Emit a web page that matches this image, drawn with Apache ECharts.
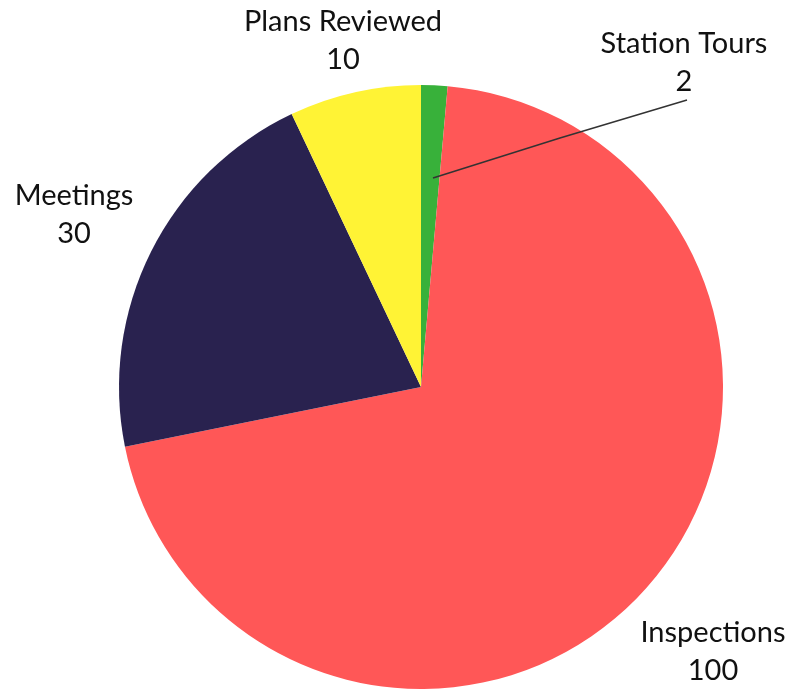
<!DOCTYPE html>
<html>
<head>
<meta charset="utf-8">
<script src="https://cdn.jsdelivr.net/npm/echarts@6/dist/echarts.min.js"></script>
<style>
  html, body { margin: 0; padding: 0; background: #fff; }
  #chart_box { width: 801px; height: 690px; }
</style>
</head>
<body>
<div id="chart_box"></div>
<script>
let categories = ['Station Tours', 'Inspections', 'Meetings', 'Plans Reviewed'];
let values = [2, 100, 30, 10];
let colors = ['#38b13a', '#ff5757', '#29224f', '#fff335'];

// where each label block sits (centre of the two text lines)
let labelSpots = [[684, 63], [713, 652], [74, 215], [343, 41]];

let myChart = echarts.init(document.getElementById('chart_box'));

let sliceData = categories.map(function (name, i) {
    return { name: name, value: values[i], itemStyle: { color: colors[i] } };
});

// same slices again, invisible, only to carry labels above all sectors
let labelData = categories.map(function (name, i) {
    return { name: name, value: values[i], labelLine: { show: i === 0 } };
});

let myOption = {
    animation: false,
    series: [{
        type: 'pie',
        z: 1,
        center: [421, 387],
        radius: 302,
        startAngle: 90,
        clockwise: true,
        data: sliceData,
        label: { show: false },
        labelLine: { show: false },
        emphasis: { disabled: true }
    }, {
        type: 'pie',
        z: 10,
        center: [421, 387],
        radius: 302,
        startAngle: 90,
        clockwise: true,
        silent: true,
        data: labelData,
        itemStyle: { color: 'rgba(0,0,0,0)' },
        label: {
            show: true,
            position: 'outside',
            formatter: '{b}\n{c}',
            fontFamily: 'Lato',
            fontSize: 29,
            lineHeight: 38,
            color: '#111',
            overflow: 'none'
        },
        labelLine: {
            show: false,
            showAbove: true,
            lineStyle: { color: '#333', width: 1.5 }
        },
        labelLayout: function (params) {
            let p = labelSpots[params.dataIndex];
            let out = { x: p[0], y: p[1], align: 'center', verticalAlign: 'middle' };
            if (params.dataIndex === 0) {
                out.labelLinePoints = [[433, 178], [560, 138], [687, 100]];
            }
            return out;
        },
        emphasis: { disabled: true }
    }]
};

myChart.setOption(myOption);
</script>
</body>
</html>
